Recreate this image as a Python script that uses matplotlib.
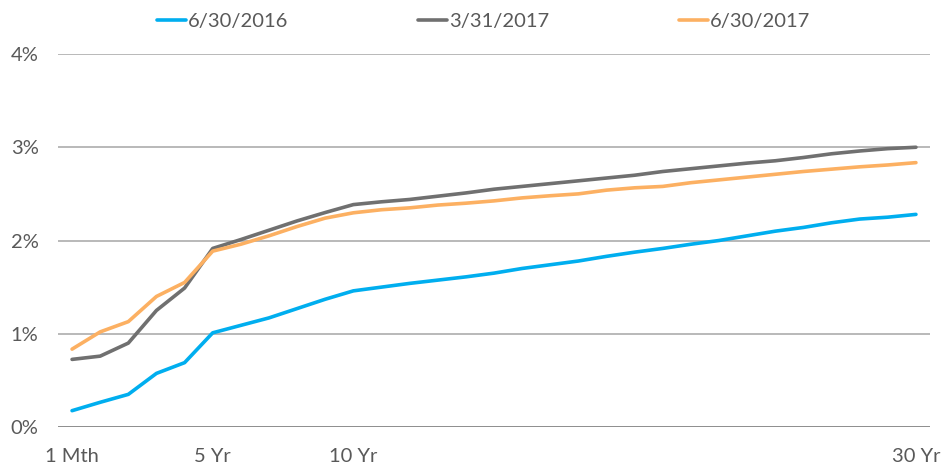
import matplotlib
matplotlib.use("Agg")
import matplotlib.pyplot as plt
from matplotlib.ticker import FuncFormatter

maturities = ["1 Mth", "3 Mth", "6 Mth", "1 Yr", "2 Yr", "5 Yr", "6 Yr", "7 Yr", "8 Yr", "9 Yr",
              "10 Yr", "11 Yr", "12 Yr", "13 Yr", "14 Yr", "15 Yr", "16 Yr", "17 Yr", "18 Yr", "19 Yr",
              "20 Yr", "21 Yr", "22 Yr", "23 Yr", "24 Yr", "25 Yr", "26 Yr", "27 Yr", "28 Yr", "29 Yr", "30 Yr"]
shown_labels = {"1 Mth", "5 Yr", "10 Yr", "30 Yr"}

y_2016_06 = [0.175, 0.265, 0.35, 0.575, 0.69, 1.01, 1.09, 1.17, 1.27, 1.37,
             1.46, 1.50, 1.54, 1.575, 1.61, 1.65, 1.70, 1.74, 1.78, 1.83,
             1.875, 1.915, 1.96, 2.00, 2.05, 2.10, 2.14, 2.19, 2.23, 2.25, 2.28]
y_2017_03 = [0.725, 0.76, 0.90, 1.25, 1.49, 1.915, 2.01, 2.11, 2.21, 2.30,
             2.385, 2.415, 2.44, 2.475, 2.51, 2.55, 2.58, 2.61, 2.64, 2.67,
             2.70, 2.74, 2.77, 2.80, 2.83, 2.855, 2.89, 2.93, 2.96, 2.985, 3.00]
y_2017_06 = [0.835, 1.02, 1.13, 1.40, 1.55, 1.886, 1.96, 2.05, 2.15, 2.24,
             2.297, 2.33, 2.35, 2.38, 2.40, 2.425, 2.457, 2.48, 2.50, 2.54,
             2.565, 2.58, 2.62, 2.65, 2.68, 2.71, 2.74, 2.765, 2.79, 2.81, 2.835]
series_names = ["6/30/2016", "3/31/2017", "6/30/2017"]
colors = ["#00AEEF", "#707070", "#FCB062"]

plt.rcParams["font.family"] = ["Lato", "DejaVu Sans"]
FS = 14.5

fig = plt.figure(figsize=(9.41, 4.67), dpi=100)
ax = fig.add_axes([58/941, 40/467, 872/941, 373/467])

x = list(range(len(maturities)))
for ys, name, c in zip([y_2016_06, y_2017_03, y_2017_06], series_names, colors):
    ax.plot(x, ys, color=c, lw=2.6, label=name, solid_capstyle="round", solid_joinstyle="round")

ax.set_xlim(-0.5, len(maturities) - 0.5)
ax.set_ylim(0, 4)
ax.set_yticks([0, 1, 2, 3, 4])
ax.yaxis.set_major_formatter(FuncFormatter(lambda v, p: f"{v:.0f}%"))
ax.set_xticks(x)
ax.set_xticklabels([m if m in shown_labels else "" for m in maturities])
ax.grid(axis="y", color="#A6A6A6", lw=1.1)
ax.set_axisbelow(True)
for s in ax.spines.values():
    s.set_visible(False)
ax.axhline(0, color="#8C8C8C", lw=1.3, zorder=1)
ax.tick_params(axis="both", length=0, labelsize=FS, colors="#595959")
ax.tick_params(axis="y", pad=14)
ax.tick_params(axis="x", pad=15)

leg = fig.legend(loc="center left", bbox_to_anchor=(139/941, 0.953), ncol=3, frameon=False,
                 fontsize=FS, handlelength=1.45, handletextpad=0.08, columnspacing=6.45)
for t in leg.get_texts():
    t.set_color("#595959")

fig.savefig("out.png", dpi=100)
